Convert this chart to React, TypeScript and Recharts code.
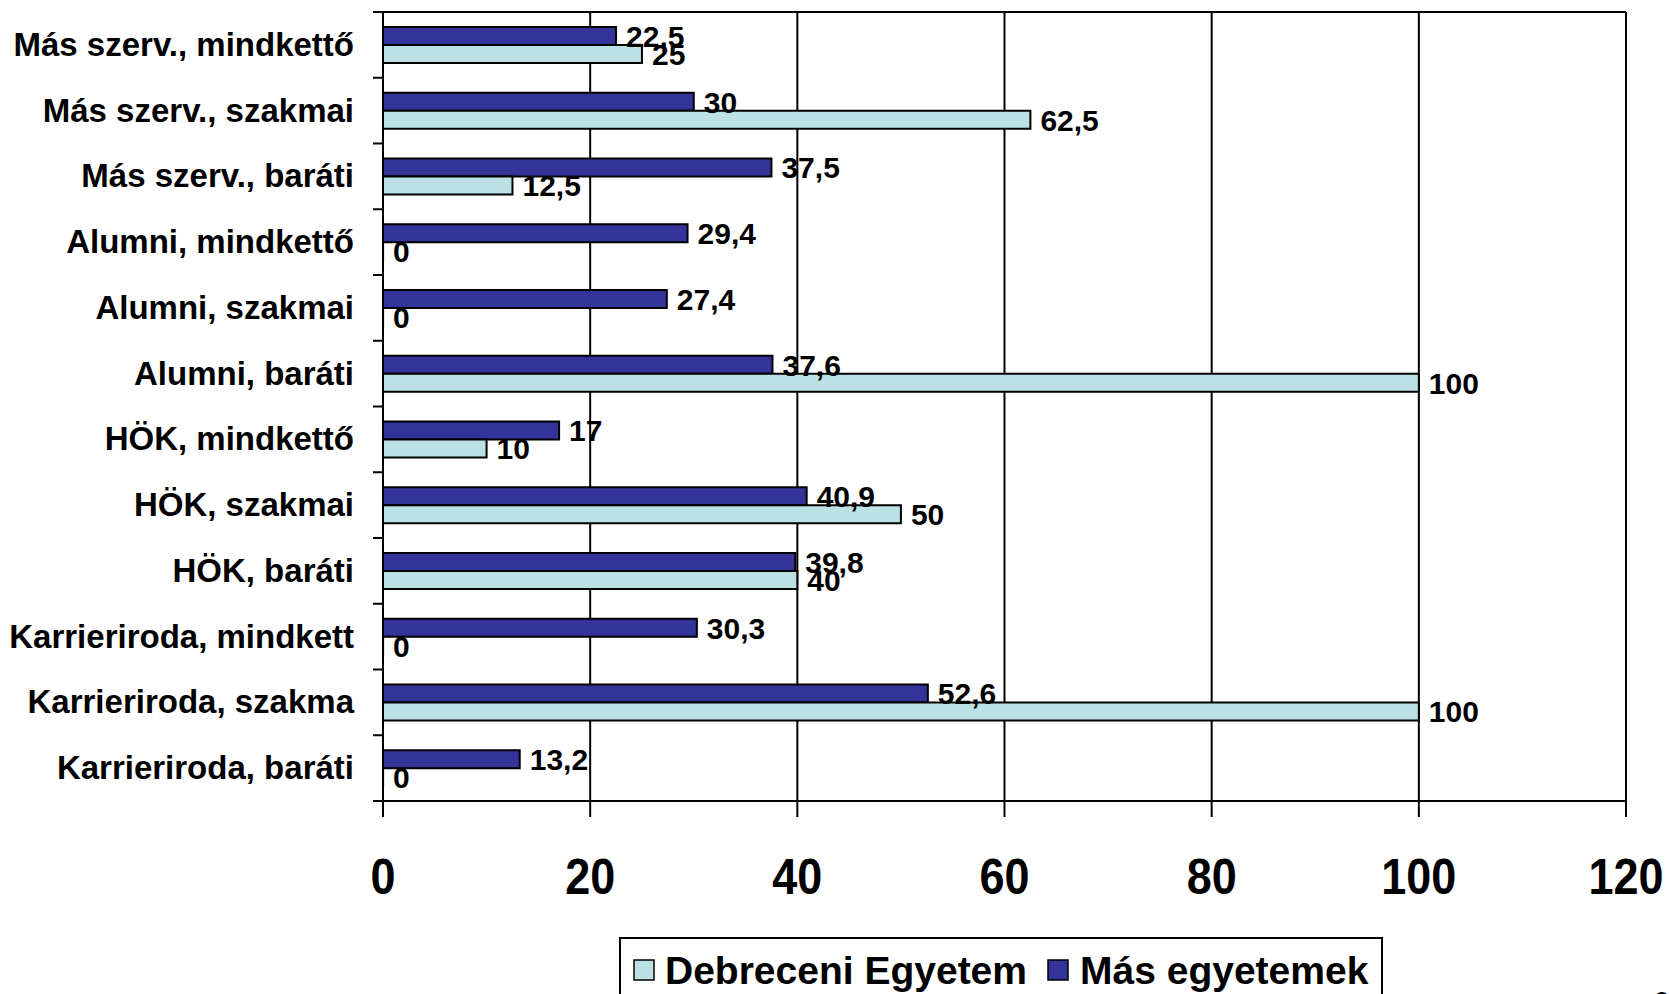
import React from "react";
import { BarChart, Bar, XAxis, YAxis, CartesianGrid, LabelList } from "recharts";

const categories = [
  "Más szerv., mindkettő",
  "Más szerv., szakmai",
  "Más szerv., baráti",
  "Alumni, mindkettő",
  "Alumni, szakmai",
  "Alumni, baráti",
  "HÖK, mindkettő",
  "HÖK, szakmai",
  "HÖK, baráti",
  "Karrieriroda, mindkett",
  "Karrieriroda, szakma",
  "Karrieriroda, baráti",
];
const debreceni = [25, 62.5, 12.5, 0, 0, 100, 10, 50, 40, 0, 100, 0];
const masEgyetemek = [22.5, 30, 37.5, 29.4, 27.4, 37.6, 17, 40.9, 39.8, 30.3, 52.6, 13.2];
const xTicks = [0, 20, 40, 60, 80, 100, 120];

const data = categories.map((name, i) => ({
  name,
  de: debreceni[i],
  mas: masEgyetemek[i],
}));

const W = 1669;
const H = 994;
const PLOT_TOP = 12;
const PLOT_BOTTOM = 801;
const BAND = (PLOT_BOTTOM - PLOT_TOP) / categories.length;
const FONT = '"Liberation Sans", Arial, sans-serif';
const LIGHT = "#BBE1E4";
const DARK = "#333399";

const fmt = (v: any) => String(v).replace(".", ",");

function CategoryTick(props: any) {
  const { x, y, payload, index } = props;
  const last = index === categories.length - 1;
  return (
    <g>
      <line x1={x} x2={x + 10} y1={y - BAND / 2} y2={y - BAND / 2} stroke="#000" strokeWidth={2} />
      {last && (
        <line x1={x} x2={x + 10} y1={y + BAND / 2} y2={y + BAND / 2} stroke="#000" strokeWidth={2} />
      )}
      <text
        x={x - 19}
        y={y}
        dy="0.33em"
        textAnchor="end"
        fontSize={33}
        fontWeight={700}
        fontFamily={FONT}
        fill="#000"
      >
        {payload.value}
      </text>
    </g>
  );
}

function ValueTick(props: any) {
  const { x, y, payload } = props;
  return (
    <text
      transform={`translate(${x},${y + 77}) scale(0.9,1)`}
      textAnchor="middle"
      fontSize={50}
      fontWeight={700}
      fontFamily={FONT}
      fill="#000"
    >
      {payload.value}
    </text>
  );
}

// draws the value next to the bar end, also for zero-length bars
function BarValue(props: any) {
  const { x, y, width, height, value } = props;
  return (
    <text
      x={x + width + 10}
      y={y + height / 2}
      dy="0.36em"
      fontSize={30}
      fontWeight={700}
      fontFamily={FONT}
      fill="#000"
    >
      {fmt(value)}
    </text>
  );
}

export default function App() {
  return (
    <div style={{ position: "absolute", left: 0, top: 0, width: W, height: H, overflow: "hidden", background: "#fff" }}>
      <BarChart
        width={W}
        height={H}
        data={data}
        layout="vertical"
        margin={{ top: 2, right: 43, left: 0, bottom: 93 }}
        barGap={0}
        barSize={18}
      >
        <CartesianGrid horizontal={false} stroke="#000" strokeWidth={2} />
        <XAxis
          type="number"
          domain={[0, 120]}
          ticks={xTicks}
          interval={0}
          height={100}
          tickSize={16}
          tickMargin={0}
          axisLine={{ stroke: "#000", strokeWidth: 2 }}
          tickLine={{ stroke: "#000", strokeWidth: 2 }}
          tick={ValueTick}
        />
        <XAxis
          xAxisId="top"
          orientation="top"
          type="number"
          domain={[0, 120]}
          height={10}
          tick={false}
          tickLine={false}
          axisLine={{ stroke: "#000", strokeWidth: 2 }}
        />
        <YAxis
          type="category"
          dataKey="name"
          width={383}
          tickSize={10}
          tickMargin={0}
          interval={0}
          tickLine={false}
          axisLine={{ stroke: "#000", strokeWidth: 2 }}
          tick={CategoryTick}
        />
        <Bar dataKey="mas" fill={DARK} stroke="#000" strokeWidth={2} minPointSize={0.1} isAnimationActive={false}>
          <LabelList dataKey="mas" content={BarValue} />
        </Bar>
        <Bar dataKey="de" fill={LIGHT} stroke="#000" strokeWidth={2} minPointSize={0.1} isAnimationActive={false}>
          <LabelList dataKey="de" content={BarValue} />
        </Bar>
      </BarChart>
      <svg width={W} height={H} style={{ position: "absolute", left: 0, top: 0, pointerEvents: "none" }}>
        <rect x={620} y={938} width={762} height={80} fill="#fff" stroke="#000" strokeWidth={2} />
        <rect x={634} y={960} width={20} height={20} fill={LIGHT} stroke="#000" strokeWidth={1.5} />
        <text x={665} y={984} fontSize={39} fontWeight={700} fontFamily={FONT} fill="#000">
          Debreceni Egyetem
        </text>
        <rect x={1048} y={960} width={20} height={20} fill={DARK} stroke="#000" strokeWidth={1.5} />
        <text x={1080} y={984} fontSize={39} fontWeight={700} fontFamily={FONT} fill="#000">
          Más egyetemek
        </text>
        <text x={1652} y={1012} fontSize={30} fontStyle="italic" fontFamily={FONT} fill="#000">
          9
        </text>
      </svg>
    </div>
  );
}
